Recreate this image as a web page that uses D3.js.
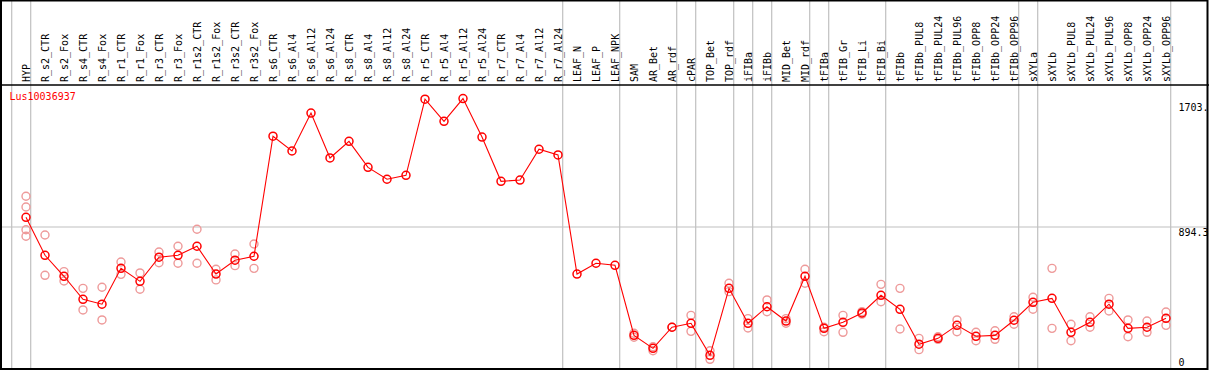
<!DOCTYPE html>
<html>
<head>
<meta charset="utf-8">
<script src="https://cdnjs.cloudflare.com/ajax/libs/d3/7.8.5/d3.min.js"></script>
<style>
  body { margin: 0; background: #fff; }
  text { font-family: "DejaVu Sans Mono", monospace; font-size: 10px; }
</style>
</head>
<body>
<div class="canvas"></div>
<script>
const geneName = 'Lus10036937';

const categories = ['HYP', 'R_s2_CTR', 'R_s2_Fox', 'R_s4_CTR', 'R_s4_Fox', 'R_r1_CTR', 'R_r1_Fox',
	'R_r3_CTR', 'R_r3_Fox', 'R_r1s2_CTR', 'R_r1s2_Fox', 'R_r3s2_CTR', 'R_r3s2_Fox',
	'R_s6_CTR', 'R_s6_Al4', 'R_s6_Al12', 'R_s6_Al24', 'R_s8_CTR', 'R_s8_Al4', 'R_s8_Al12', 'R_s8_Al24',
	'R_r5_CTR', 'R_r5_Al4', 'R_r5_Al12', 'R_r5_Al24', 'R_r7_CTR', 'R_r7_Al4', 'R_r7_Al12', 'R_r7_Al24',
	'LEAF_N', 'LEAF_P', 'LEAF_NPK', 'SAM', 'AR_Bet', 'AR_rdf', 'cPAR', 'TOP_Bet', 'TOP_rdf',
	'iFIBa', 'iFIBb', 'MID_Bet', 'MID_rdf', 'tFIBa', 'tFIB_Gr', 'tFIB_Li', 'tFIB_Bi', 'tFIBb',
	'tFIBb_PUL8', 'tFIBb_PUL24', 'tFIBb_PUL96', 'tFIBb_OPP8', 'tFIBb_OPP24', 'tFIBb_OPP96',
	'sXYLa', 'sXYLb', 'sXYLb_PUL8', 'sXYLb_PUL24', 'sXYLb_PUL96', 'sXYLb_OPP8', 'sXYLb_OPP24', 'sXYLb_OPP96'];

// mean expression per sample
const means = [955, 716, 584, 439, 408, 634, 552, 704, 716, 773, 598, 685, 710,
	1466, 1373, 1612, 1329, 1434, 1270, 1195, 1220,
	1699, 1560, 1703, 1461, 1182, 1190, 1384, 1348,
	598, 666, 653, 212, 130, 263, 288, 86, 508,
	288, 392, 302, 584, 256, 294, 353, 464, 376,
	156, 193, 275, 206, 212, 307,
	420, 445, 231, 294, 408, 256, 263, 319];

// individual replicates per sample
const replicates = [
	[1088, 1020, 877, 836], [844, 590], [613, 554], [508, 372], [515, 309], [674, 596], [605, 502],
	[737, 669], [773, 666], [880, 666], [628, 561], [724, 651], [787, 634],
	[], [], [], [], [], [], [], [],
	[], [], [], [], [], [], [], [],
	[], [], [], [225, 200], [140, 115], [263], [338, 237], [115, 61], [540, 487],
	[317, 258], [435, 361], [317, 288], [628, 540], [263, 235], [338, 231], [361, 346], [533, 424], [508, 252],
	[193, 122], [203, 187], [309, 235], [231, 178], [241, 187], [329, 282],
	[452, 376], [634, 256], [282, 178], [329, 263], [445, 365], [309, 203], [302, 231], [359, 275]];

// samples followed by a separator line (-1 = before the first)
const separators = [-1, 'HYP', 'R_r7_Al24', 'LEAF_NPK', 'AR_rdf', 'cPAR', 'TOP_rdf', 'iFIBa', 'iFIBb',
	'MID_rdf', 'tFIBa', 'tFIB_Bi', 'tFIBb_OPP96', 'sXYLa', 'sXYLb_OPP96'];

const axisLabels = [1703, 894.3, 0];
const axisTexts = ['1703.', '894.3', '0'];

const width = 1209;
const height = 370;
const headerY = 85;
const bottomY = 369;

const svg = d3.select('.canvas')
	.append('svg')
	.attr('width', width)
	.attr('height', height);

const x = d3.scalePoint()
	.domain(categories)
	.range([26, 1166]);

const step = x.step();

const y = d3.scaleLinear()
	.domain([0, 894.3 * 2])
	.range([bottomY, headerY]);

const sepX = s => (s === -1 ? x(categories[0]) - step : x(s)) + 4.7;

// grid
svg.append('g')
	.selectAll('line')
	.data(separators)
	.enter()
	.append('line')
	.attr('x1', sepX)
	.attr('x2', sepX)
	.attr('y1', 0)
	.attr('y2', bottomY)
	.attr('stroke', '#c0c0c0')
	.attr('stroke-width', 1.2);

svg.append('line')
	.attr('x1', 2)
	.attr('x2', width - 2)
	.attr('y1', y(894.3))
	.attr('y2', y(894.3))
	.attr('stroke', '#c0c0c0')
	.attr('stroke-width', 1.2);

// column labels
svg.append('g')
	.selectAll('text')
	.data(categories)
	.enter()
	.append('text')
	.attr('transform', d => `translate(${x(d) + 4}, 82) rotate(-90)`)
	.attr('fill', '#000')
	.text(d => d);

// right axis labels
svg.append('g')
	.selectAll('text')
	.data(axisLabels)
	.enter()
	.append('text')
	.attr('x', 1178.5)
	.attr('y', (d, i) => i === 0 ? y(d) + 12 : i === 1 ? y(d) + 8.5 : y(d) - 3.5)
	.attr('fill', '#000')
	.text((d, i) => axisTexts[i]);

svg.append('text')
	.attr('x', 9.5)
	.attr('y', 100)
	.attr('fill', 'red')
	.text(geneName);

// replicate points
const repData = [];
replicates.forEach((reps, i) => reps.forEach(v => repData.push({ name: categories[i], value: v })));

svg.append('g')
	.selectAll('circle')
	.data(repData)
	.enter()
	.append('circle')
	.attr('cx', d => x(d.name))
	.attr('cy', d => y(d.value))
	.attr('r', 4)
	.attr('fill', 'none')
	.attr('stroke', '#ee9a9a')
	.attr('stroke-width', 1.4);

// mean line
const line = d3.line()
	.x((d, i) => x(categories[i]))
	.y(d => y(d));

svg.append('path')
	.datum(means)
	.attr('d', line)
	.attr('fill', 'none')
	.attr('stroke', 'red')
	.attr('stroke-width', 1.1);

svg.append('g')
	.selectAll('circle')
	.data(means)
	.enter()
	.append('circle')
	.attr('cx', (d, i) => x(categories[i]))
	.attr('cy', d => y(d))
	.attr('r', 4)
	.attr('fill', 'none')
	.attr('stroke', 'red')
	.attr('stroke-width', 1.5);

// frame
svg.append('line')
	.attr('x1', 0).attr('x2', width)
	.attr('y1', headerY).attr('y2', headerY)
	.attr('stroke', '#000').attr('stroke-width', 1.5);

svg.append('rect')
	.attr('x', 1)
	.attr('y', 0.5)
	.attr('width', 1206.5)
	.attr('height', bottomY - 0.5)
	.attr('fill', 'none')
	.attr('stroke', '#000')
	.attr('stroke-width', 2);
</script>
</body>
</html>
